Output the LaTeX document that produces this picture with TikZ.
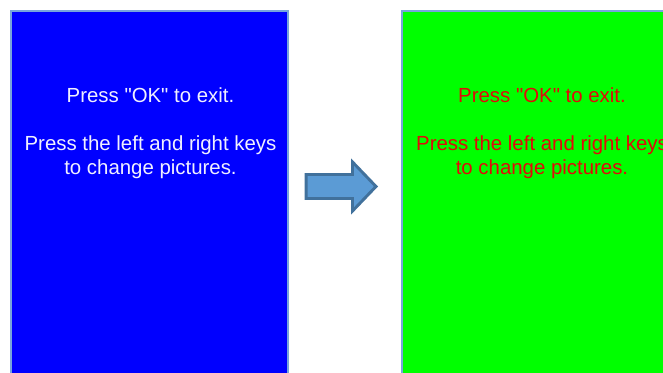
\documentclass[tikz,border=0pt]{standalone}
\usepackage{fontspec}
\setmainfont{Liberation Sans}[Ligatures=TeXOff]
\usetikzlibrary{positioning}

\definecolor{screenblue}{RGB}{0,0,255}
\definecolor{screengreen}{RGB}{0,255,0}
\definecolor{frameblue}{RGB}{120,165,220}
\definecolor{arrowfill}{RGB}{91,155,213}
\definecolor{arrowline}{RGB}{65,113,156}
\definecolor{msgred}{RGB}{225,10,10}
\definecolor{msgwhite}{RGB}{240,240,255}

\newcommand{\okmsg}{Press "OK" to exit.\\[18pt]Press the left and right keys\\to change pictures.}

\begin{document}
\begin{tikzpicture}[x=0.75pt,y=-0.75pt,
    screen/.style={draw=frameblue, line width=1.4pt, anchor=north west,
      minimum width=207.75pt, minimum height=300pt, inner sep=0pt},
    msg/.style={align=center, font=\fontsize{15.3}{18}\selectfont},
    nextarrow/.style={draw=arrowline, fill=arrowfill, line width=2.2pt, line join=miter}]
    \useasboundingbox (0,0) rectangle (663,373);
    \clip (0,0) rectangle (663,373);

    % screen before the key press
    \node[screen, fill=screenblue] (before) at (10,10) {};
    \node[msg, msgwhite] (beforetext) at (150.5,133) {\okmsg};

    % screen after the key press
    \node[screen, fill=screengreen] (after) at (401,10) {};
    \node[msg, msgred] (aftertext) at (542,133) {\okmsg};

    % arrow between the two
    \draw[nextarrow] (306.2,174.5) -- (352.5,174.5) -- (352.5,162) -- (376,186.5)
        -- (352.5,211) -- (352.5,198.5) -- (306.2,198.5) -- cycle;
\end{tikzpicture}
\end{document}
